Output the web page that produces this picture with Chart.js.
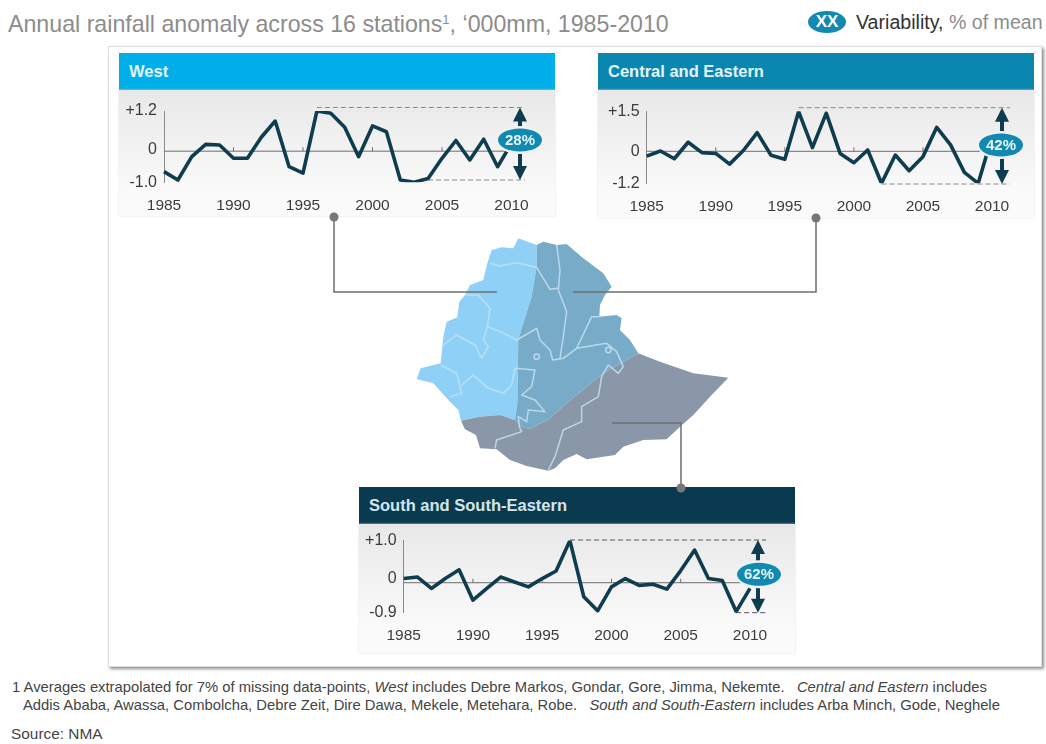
<!DOCTYPE html>
<html>
<head>
<meta charset="utf-8">
<title>Annual rainfall anomaly</title>
<script src="https://cdn.jsdelivr.net/npm/chart.js@4"></script>
<style>
    html, body { margin: 0; padding: 0; background: #fff; }
    body { position: relative; width: 1046px; height: 744px; overflow: hidden; font-family: "Liberation Sans", Arial, sans-serif; }
    .abs { position: absolute; white-space: nowrap; }
    #title { left: 8px; top: 12px; font-size: 23.2px; line-height: 24px; color: #8c8c8c; }
    #title sup { font-size: 13px; line-height: 0; vertical-align: 8px; }
    #legendBubble { left: 808px; top: 11px; width: 38px; height: 22px; border-radius: 50%; background: #1189b0; color: #fff; font-weight: bold; font-size: 17px; line-height: 22px; text-align: center; }
    #legendText { left: 856px; top: 11px; font-size: 19.6px; line-height: 22px; color: #8c8c8c; }
    #legendText b { font-weight: normal; color: #333; }
    #frame { left: 108px; top: 46px; width: 934px; height: 621px; background: #fff; border: 1px solid #ddd; box-sizing: border-box; box-shadow: 2px 2px 3px #8f8f8f; }
    .head { height: 37px; line-height: 37px; font-weight: bold; font-size: 16.5px; color: #e4f5fc; box-sizing: border-box; padding-left: 10px; }
    .body { background: linear-gradient(#e8e8e8, #fafafa 80%, #fbfbfb); box-shadow: 0 0 2px #ddd; }
    canvas { position: absolute; }
    #map { position: absolute; left: 0; top: 0; z-index: 2; pointer-events: none; }
    .foot { font-size: 14.8px; line-height: 16px; color: #444; }
</style>
</head>
<body>
<div class="abs" id="title">Annual rainfall anomaly across 16 stations<sup>1</sup>, ‘000mm, 1985-2010</div>
<div class="abs" id="legendBubble">XX</div>
<div class="abs" id="legendText"><b>Variability,</b> % of mean</div>
<div class="abs" id="frame"></div>

<svg id="map" width="1046" height="744">
    <g transform="translate(400 230) scale(0.3333)">
        <polygon fill="#8fd1f6" points="410,45 355,25 340,55 305,52 275,60 262,100 250,150 210,165 195,195 178,215 172,262 140,275 130,320 122,400 62,415 50,447 100,460 150,515 175,540 183,572 240,560 300,555 345,570 352,520 355,330 365,295 395,200 410,110"/>
        <polygon fill="#78abc8" points="410,45 430,35 470,45 500,42 550,85 610,130 635,170 615,195 600,225 598,260 650,255 665,265 660,300 690,330 715,370 680,390 610,430 560,470 500,520 450,565 390,597 365,590 345,570 352,520 355,330 365,295 395,200 410,110"/>
        <polygon fill="#8a97a8" points="183,572 240,560 300,555 345,570 365,590 390,597 450,565 500,520 560,470 610,430 680,390 715,370 780,395 880,430 985,443 935,495 880,555 840,590 800,628 730,630 670,650 645,675 560,688 530,672 490,690 465,715 445,722 380,708 330,690 290,658 240,655 228,615 195,598"/>
        <g fill="none" stroke="#c3e2f2" stroke-width="4.5" stroke-linejoin="round" opacity="0.85">
            <polyline points="270,100 300,108 350,98 410,112 430,145 450,178 475,175"/>
            <polyline points="195,195 235,195 270,235 262,290 300,305 350,330 410,295 420,330 450,360 458,390 490,385 530,355 620,340 650,365 670,410 655,430 625,405 605,440 595,500 545,530 545,575 490,600 465,680 445,720"/>
            <polyline points="470,45 480,120 475,180 500,245 490,320 480,385"/>
            <polyline points="262,290 250,330 265,350 245,385"/>
            <polyline points="130,345 170,315 225,345 245,385"/>
            <polyline points="122,405 170,430 185,490 150,500"/>
            <polyline points="185,465 220,435 265,475 310,490 335,465 345,415 405,420 395,470 365,495 405,510 435,545 385,540 380,575 355,560 358,590 365,605 290,630 285,655"/>
            <polyline points="530,355 575,260 598,260"/>
            <circle cx="410" cy="380" r="8"/>
            <circle cx="625" cy="360" r="8"/>
        </g>
    </g>
    <g fill="none" stroke="#6f6f6f" stroke-width="1.5">
        <polyline points="334,217 334,292 497,292"/>
        <polyline points="816,218 816,292 573,292"/>
        <polyline points="612,423 681,423 681,488"/>
    </g>
    <g fill="#777">
        <circle cx="334" cy="217" r="4.5"/>
        <circle cx="816" cy="218" r="4.5"/>
        <circle cx="681" cy="488" r="4.5"/>
    </g>
</svg>

<div class="abs head" style="left:119px;top:53px;width:436px;background:#00aeea;">West</div>
<div class="abs body" style="left:119px;top:90px;width:436px;height:126px;"></div>
<canvas id="westChart" width="436" height="126" style="left:119px;top:90px;"></canvas>

<div class="abs head" style="left:598px;top:53px;width:436px;background:#0a87b1;">Central and Eastern</div>
<div class="abs body" style="left:598px;top:90px;width:436px;height:128px;"></div>
<canvas id="centralChart" width="436" height="128" style="left:598px;top:90px;"></canvas>

<div class="abs head" style="left:359px;top:487px;width:436px;background:#0a3a50;color:#d5e4ea;">South and South-Eastern</div>
<div class="abs body" style="left:359px;top:524px;width:436px;height:129px;"></div>
<canvas id="southChart" width="436" height="129" style="left:359px;top:524px;"></canvas>

<div class="abs foot" style="left:12px;top:679px;">1 Averages extrapolated for 7% of missing data-points, <i>West</i> includes Debre Markos, Gondar, Gore, Jimma, Nekemte.&nbsp;&nbsp; <i>Central and Eastern</i> includes</div>
<div class="abs foot" style="left:23px;top:697px;">Addis Ababa, Awassa, Combolcha, Debre Zeit, Dire Dawa, Mekele, Metehara, Robe.&nbsp;&nbsp; <i>South and South-Eastern</i> includes Arba Minch, Gode, Neghele</div>
<div class="abs foot" style="left:11px;top:726px;font-size:15.4px;">Source: NMA</div>

<script>
const years = [1985, 1986, 1987, 1988, 1989, 1990, 1991, 1992, 1993, 1994, 1995, 1996, 1997,
    1998, 1999, 2000, 2001, 2002, 2003, 2004, 2005, 2006, 2007, 2008, 2009, 2010];

const westValues = [-0.67, -0.93, -0.21, 0.17, 0.15, -0.26, -0.26, 0.39, 0.89, -0.52, -0.72, 1.2, 1.13,
    0.70, -0.21, 0.74, 0.56, -0.93, -1.0, -0.88, -0.26, 0.29, -0.31, 0.33, -0.52, 0.2];
const centralValues = [-0.18, 0.01, -0.28, 0.34, -0.05, -0.08, -0.48, 0.03, 0.7, -0.15, -0.3, 1.49, 0.14,
    1.43, -0.08, -0.43, 0.05, -1.2, -0.14, -0.73, -0.2, 0.9, 0.24, -0.79, -1.2, 0.55];
const southValues = [0.0, 0.04, -0.26, 0.0, 0.23, -0.57, -0.26, 0.04, -0.09, -0.22, 0.0, 0.2, 1.0,
    -0.48, -0.85, -0.22, 0.0, -0.18, -0.15, -0.28, 0.21, 0.75, 0.0, -0.05, -0.87, -0.26];

const westTicks = ["+1.2", "0", "-1.0"];
const centralTicks = ["+1.5", "0", "-1.2"];
const southTicks = ["+1.0", "0", "-0.9"];

const FONT = '"Liberation Sans", Arial, sans-serif';
const LINE_COLOR = "#0f3d4f";

// dashed range lines, arrows and the % bubble, plus the grey baseline
const rangeMarks = {
    id: "rangeMarks",
    beforeDatasetsDraw(chart, args, opts) {
        const { ctx } = chart;
        const x = chart.scales.x;
        const y = chart.scales.y;
        const base = y.getPixelForValue(opts.baseline);
        ctx.save();
        ctx.strokeStyle = "#6e6e6e";
        ctx.lineWidth = 1;
        ctx.beginPath();
        ctx.moveTo(x.left, base);
        ctx.lineTo(x.right, base);
        years.forEach((year, i) => {
            if (year % 5 === 0 && i > 0 && i < years.length - 1) {
                const px = x.getPixelForValue(i);
                ctx.moveTo(px, base);
                ctx.lineTo(px, base - 4);
            }
        });
        ctx.stroke();

        ctx.strokeStyle = opts.dashColor;
        ctx.setLineDash([5, 3]);
        ctx.beginPath();
        ctx.moveTo(x.getPixelForValue(years.indexOf(opts.topYear)), opts.topY);
        ctx.lineTo(opts.dashEnd, opts.topY);
        ctx.moveTo(x.getPixelForValue(years.indexOf(opts.bottomYear)), opts.bottomY);
        ctx.lineTo(opts.dashEnd, opts.bottomY);
        ctx.stroke();
        ctx.restore();
    },
    afterDatasetsDraw(chart, args, opts) {
        const { ctx } = chart;
        ctx.save();
        ctx.strokeStyle = LINE_COLOR;
        ctx.fillStyle = LINE_COLOR;
        ctx.lineWidth = 4;
        ctx.beginPath();
        ctx.moveTo(opts.arrowX, opts.topY + 10);
        ctx.lineTo(opts.arrowX, opts.bubbleY);
        ctx.moveTo(opts.arrowX, opts.bottomY - 10);
        ctx.lineTo(opts.arrowX, opts.bubbleY);
        ctx.stroke();
        [[opts.topY, 1], [opts.bottomY, -1]].forEach(([tip, dir]) => {
            ctx.beginPath();
            ctx.moveTo(opts.arrowX, tip);
            ctx.lineTo(opts.arrowX - 7, tip + dir * 14);
            ctx.lineTo(opts.arrowX + 7, tip + dir * 14);
            ctx.closePath();
            ctx.fill();
        });

        // white halo then the bubble
        ctx.fillStyle = "#f1f1f1";
        ctx.beginPath();
        ctx.ellipse(opts.bubbleX, opts.bubbleY, 24, 14, 0, 0, Math.PI * 2);
        ctx.fill();
        ctx.fillStyle = "#1189b0";
        ctx.beginPath();
        ctx.ellipse(opts.bubbleX, opts.bubbleY, 22, 11.5, 0, 0, Math.PI * 2);
        ctx.fill();
        ctx.fillStyle = "#e6f6fb";
        ctx.font = "bold 15px " + FONT;
        ctx.textAlign = "center";
        ctx.textBaseline = "middle";
        ctx.fillText(opts.label, opts.bubbleX, opts.bubbleY + 1);
        ctx.restore();
    }
};

function renderPanel(id, values, tickLabels, yMin, yMax, top, axisWidth, xHeight, right, marks) {
    new Chart(document.getElementById(id), {
        type: "line",
        data: {
            labels: years,
            datasets: [{
                data: values,
                borderColor: LINE_COLOR,
                borderWidth: 3.6,
                borderJoinStyle: "round",
                pointRadius: 0,
                tension: 0
            }]
        },
        options: {
            responsive: false,
            maintainAspectRatio: false,
            animation: false,
            layout: { autoPadding: false, padding: { top: top, right: right, left: 0, bottom: 0 } },
            plugins: { legend: { display: false }, tooltip: { enabled: false }, rangeMarks: marks },
            scales: {
                x: {
                    grid: { display: false, drawTicks: false },
                    border: { display: false },
                    afterFit: scale => { scale.height = xHeight; },
                    ticks: {
                        autoSkip: false,
                        maxRotation: 0,
                        padding: 14,
                        color: "#3c3c3c",
                        font: { family: FONT, size: 15.5 },
                        callback: (v, i) => (years[i] % 5 === 0 ? String(years[i]) : "")
                    }
                },
                y: {
                    min: yMin,
                    max: yMax,
                    grid: { display: false, drawTicks: false },
                    border: { display: true, color: "#8a8a8a", width: 1 },
                    afterFit: scale => { scale.width = axisWidth; },
                    afterBuildTicks: scale => {
                        scale.ticks = [{ value: yMin }, { value: 0 }, { value: yMax }];
                    },
                    ticks: {
                        padding: 7,
                        color: "#3c3c3c",
                        font: { family: FONT, size: 16 },
                        callback: v => (v === yMax ? tickLabels[0] : v === 0 ? tickLabels[1] : tickLabels[2])
                    }
                }
            }
        },
        plugins: [rangeMarks]
    });
}

renderPanel("westChart", westValues, westTicks, -1.0, 1.2, 21, 45, 33.7, 43.5, {
    baseline: -0.04, label: "28%", dashColor: "#8a8a8a",
    topYear: 1996, bottomYear: 2004, dashEnd: 406, topY: 17.5, bottomY: 90,
    arrowX: 401, bubbleX: 401, bubbleY: 50
});
renderPanel("centralChart", centralValues, centralTicks, -1.2, 1.5, 21.3, 48.7, 34.7, 42, {
    baseline: 0, label: "42%", dashColor: "#8a8a8a",
    topYear: 1996, bottomYear: 2002, dashEnd: 412, topY: 17.7, bottomY: 94,
    arrowX: 404, bubbleX: 403, bubbleY: 55
});
renderPanel("southChart", southValues, southTicks, -0.9, 1.0, 16, 44.7, 40.3, 45, {
    baseline: -0.11, label: "62%", dashColor: "#555555",
    topYear: 1997, bottomYear: 2009, dashEnd: 407, topY: 16, bottomY: 88.7,
    arrowX: 399, bubbleX: 400, bubbleY: 50.3
});
</script>
</body>
</html>
